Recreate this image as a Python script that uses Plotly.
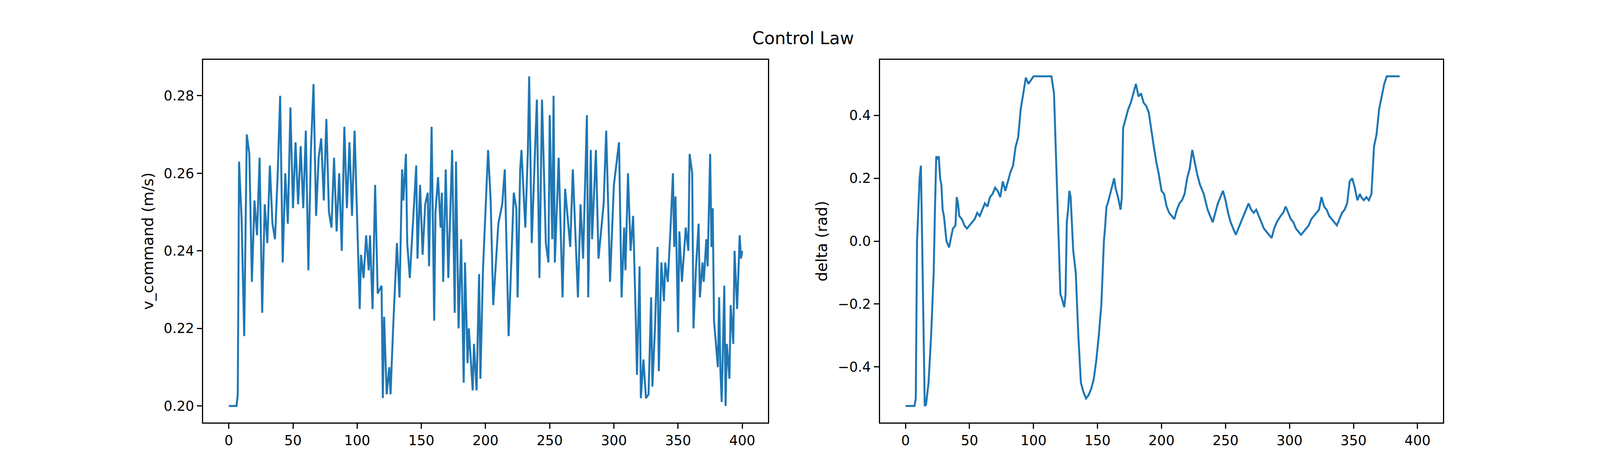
import plotly.graph_objects as go
from plotly.subplots import make_subplots

# speed command samples (time step, value)
t_v = [0, 2, 4, 6, 7, 8, 10, 12, 14, 16, 18, 20, 22, 24, 26, 28, 30, 32, 34, 36, 38, 40, 42, 44, 46,
       48, 50, 52, 54, 56, 58, 60, 62, 64, 66, 68, 70, 72, 74, 76, 78, 80, 82, 84, 86, 88, 90, 92,
       94, 96, 98, 100, 102, 103, 105, 107, 109, 110, 112, 114, 116, 119, 120, 121, 123, 125, 126,
       128, 131, 133, 135, 136, 138, 139, 141, 145, 146, 147, 149, 151, 153, 155, 156, 158, 160,
       161, 163, 165, 166, 167, 169, 171, 173, 174, 176, 177, 179, 181, 183, 184, 186, 187, 190,
       191, 193, 195, 196, 198, 202, 204, 206, 210, 213, 215, 217, 218, 222, 224, 225, 227, 228,
       231, 233, 234, 236, 239, 240, 242, 244, 247, 249, 250, 252, 253, 254, 257, 258, 260, 262,
       266, 268, 270, 272, 274, 276, 279, 280, 282, 283, 286, 288, 292, 294, 296, 297, 300, 304,
       306, 308, 309, 311, 313, 315, 317, 318, 320, 321, 323, 325, 327, 329, 330, 332, 334, 335,
       337, 339, 340, 342, 344, 346, 347, 348, 350, 351, 353, 355, 356, 358, 359, 361, 362, 364,
       366, 367, 369, 370, 372, 373, 375, 376, 377, 378, 380, 381, 382, 383, 384, 386, 387, 388,
       390, 391, 393, 394, 396, 398, 399, 400]
v_command = [0.200, 0.200, 0.200, 0.200, 0.203, 0.263, 0.248, 0.218, 0.270, 0.265, 0.232, 0.253,
             0.244, 0.264, 0.224, 0.252, 0.242, 0.262, 0.247, 0.243, 0.259, 0.280, 0.237, 0.260,
             0.247, 0.277, 0.251, 0.268, 0.252, 0.267, 0.251, 0.271, 0.235, 0.266, 0.283, 0.249,
             0.264, 0.269, 0.253, 0.274, 0.250, 0.246, 0.264, 0.245, 0.260, 0.240, 0.272, 0.251,
             0.268, 0.249, 0.271, 0.246, 0.225, 0.239, 0.233, 0.244, 0.235, 0.244, 0.225, 0.257,
             0.229, 0.231, 0.202, 0.223, 0.203, 0.210, 0.203, 0.220, 0.242, 0.228, 0.261, 0.253,
             0.265, 0.242, 0.233, 0.256, 0.262, 0.238, 0.257, 0.239, 0.252, 0.255, 0.236, 0.272,
             0.222, 0.250, 0.259, 0.246, 0.255, 0.232, 0.261, 0.233, 0.257, 0.266, 0.224, 0.263,
             0.220, 0.243, 0.206, 0.237, 0.211, 0.220, 0.204, 0.216, 0.204, 0.234, 0.207, 0.235,
             0.266, 0.253, 0.226, 0.247, 0.252, 0.261, 0.232, 0.218, 0.255, 0.251, 0.228, 0.261,
             0.266, 0.246, 0.266, 0.285, 0.242, 0.270, 0.279, 0.233, 0.279, 0.242, 0.237, 0.275,
             0.243, 0.280, 0.237, 0.264, 0.252, 0.228, 0.256, 0.241, 0.261, 0.245, 0.228, 0.252,
             0.238, 0.275, 0.228, 0.266, 0.243, 0.266, 0.238, 0.252, 0.271, 0.246, 0.232, 0.257,
             0.268, 0.228, 0.246, 0.235, 0.260, 0.240, 0.249, 0.223, 0.208, 0.236, 0.202, 0.212,
             0.202, 0.203, 0.228, 0.205, 0.220, 0.241, 0.209, 0.237, 0.227, 0.237, 0.232, 0.245,
             0.260, 0.241, 0.254, 0.219, 0.245, 0.232, 0.242, 0.246, 0.240, 0.265, 0.260, 0.220,
             0.236, 0.247, 0.228, 0.237, 0.232, 0.243, 0.236, 0.265, 0.241, 0.251, 0.222, 0.213,
             0.210, 0.228, 0.209, 0.201, 0.231, 0.200, 0.216, 0.207, 0.226, 0.216, 0.240, 0.225,
             0.244, 0.238, 0.240, 0.233]

# steering angle samples
t_d = [0, 4, 7, 8, 9, 11, 12, 13, 15, 16, 18, 20, 22, 23, 24, 25, 26, 27, 28, 29, 30, 31, 32, 34,
       35, 36, 37, 39, 40, 41, 42, 44, 46, 48, 50, 52, 54, 56, 58, 60, 62, 64, 66, 68, 70, 72, 74,
       76, 78, 80, 82, 84, 86, 88, 90, 92, 94, 96, 100, 105, 110, 114, 116, 118, 120, 121, 122,
       124, 125, 126, 127, 128, 129, 130, 131, 133, 135, 137, 139, 141, 143, 145, 147, 149, 151,
       153, 154, 155, 156, 157, 158, 160, 163, 164, 166, 168, 169, 170, 172, 174, 176, 178, 180,
       182, 184, 186, 188, 190, 192, 194, 196, 198, 200, 202, 204, 206, 208, 210, 212, 214, 216,
       218, 220, 222, 224, 226, 228, 230, 233, 236, 238, 240, 242, 244, 246, 248, 250, 252, 254,
       256, 258, 260, 262, 264, 266, 268, 270, 272, 274, 276, 278, 280, 282, 284, 286, 288, 290,
       293, 295, 297, 299, 301, 303, 305, 307, 309, 311, 313, 315, 317, 319, 321, 323, 325, 327,
       329, 331, 333, 335, 337, 339, 341, 343, 345, 347, 349, 351, 353, 355, 356, 358, 360, 362,
       364, 366, 368, 370, 372, 374, 376, 378, 380, 382, 386, 390, 395, 400]
delta = [-0.524, -0.524, -0.524, -0.50, 0.0, 0.20, 0.24, 0.0, -0.524, -0.52, -0.45, -0.30, -0.10,
         0.10, 0.27, 0.26, 0.27, 0.20, 0.18, 0.10, 0.08, 0.04, 0.0, -0.02, 0.0, 0.02, 0.04, 0.05,
         0.14, 0.12, 0.08, 0.07, 0.05, 0.04, 0.05, 0.06, 0.07, 0.09, 0.08, 0.10, 0.12, 0.11, 0.14,
         0.15, 0.17, 0.16, 0.14, 0.19, 0.16, 0.19, 0.22, 0.24, 0.30, 0.33, 0.42, 0.47, 0.52, 0.50,
         0.524, 0.524, 0.524, 0.524, 0.47, 0.20, -0.05, -0.17, -0.18, -0.21, -0.17, 0.06, 0.10,
         0.16, 0.14, 0.05, -0.03, -0.10, -0.30, -0.45, -0.48, -0.50, -0.49, -0.47, -0.44, -0.38,
         -0.30, -0.20, -0.10, 0.0, 0.05, 0.11, 0.12, 0.15, 0.20, 0.17, 0.14, 0.10, 0.14, 0.36, 0.39,
         0.42, 0.44, 0.47, 0.50, 0.46, 0.47, 0.44, 0.43, 0.41, 0.35, 0.30, 0.25, 0.21, 0.16, 0.15,
         0.11, 0.09, 0.08, 0.07, 0.10, 0.12, 0.13, 0.15, 0.20, 0.23, 0.29, 0.25, 0.21, 0.18, 0.15,
         0.10, 0.08, 0.06, 0.09, 0.12, 0.14, 0.16, 0.13, 0.09, 0.06, 0.04, 0.02, 0.04, 0.06, 0.08,
         0.10, 0.12, 0.10, 0.09, 0.10, 0.08, 0.06, 0.04, 0.03, 0.02, 0.01, 0.04, 0.06, 0.08, 0.09,
         0.11, 0.09, 0.07, 0.06, 0.04, 0.03, 0.02, 0.03, 0.04, 0.05, 0.07, 0.08, 0.09, 0.10, 0.14,
         0.11, 0.10, 0.08, 0.07, 0.06, 0.05, 0.07, 0.09, 0.10, 0.12, 0.19, 0.20, 0.17, 0.13, 0.15,
         0.14, 0.13, 0.14, 0.13, 0.15, 0.30, 0.34, 0.42, 0.46, 0.50, 0.524, 0.524, 0.524, 0.524,
         0.524]

BLUE = "#1f77b4"

fig = make_subplots(rows=1, cols=2)
fig.add_trace(go.Scatter(x=t_v, y=v_command, mode="lines", line=dict(color=BLUE, width=5)),
              row=1, col=1)
fig.add_trace(go.Scatter(x=t_d, y=delta, mode="lines", line=dict(color=BLUE, width=5)),
              row=1, col=2)

axis_style = dict(showgrid=False, zeroline=False, showline=True, mirror=True, linecolor="black",
                  linewidth=3, ticks="outside", ticklen=13, tickwidth=3, tickcolor="black",
                  tickfont=dict(size=35, family="DejaVu Sans"))
fig.update_xaxes(**axis_style, range=[-20, 420], tickvals=list(range(0, 401, 50)))
fig.update_xaxes(domain=[0.125, 0.478], row=1, col=1)
fig.update_xaxes(domain=[0.548, 0.9], row=1, col=2)
fig.update_yaxes(**axis_style)
fig.update_yaxes(domain=[0.106, 0.879])
fig.update_yaxes(range=[0.19575, 0.28925], tickvals=[0.20, 0.22, 0.24, 0.26, 0.28],
                 tickformat=".2f", title=dict(text="v_command (m/s)", font=dict(size=39), standoff=15),
                 row=1, col=1)
fig.update_yaxes(range=[-0.5764, 0.5764], tickvals=[-0.4, -0.2, 0.0, 0.2, 0.4],
                 ticktext=["\u22120.4", "\u22120.2", "0.0", "0.2", "0.4"],
                 title=dict(text="delta (rad)", font=dict(size=39), standoff=15), row=1, col=2)

fig.update_layout(
    autosize=True, showlegend=False,
    paper_bgcolor="white", plot_bgcolor="white",
    margin=dict(l=0, r=0, t=0, b=0),
    font=dict(family="DejaVu Sans", color="black"),
    title=dict(text="Control Law", x=0.5, xanchor="center", y=0.925, yanchor="middle",
               font=dict(size=44, family="DejaVu Sans", color="black")),
)

fig.write_html("out.html", default_width="100vw", default_height="100vh",
               config={"responsive": True})
